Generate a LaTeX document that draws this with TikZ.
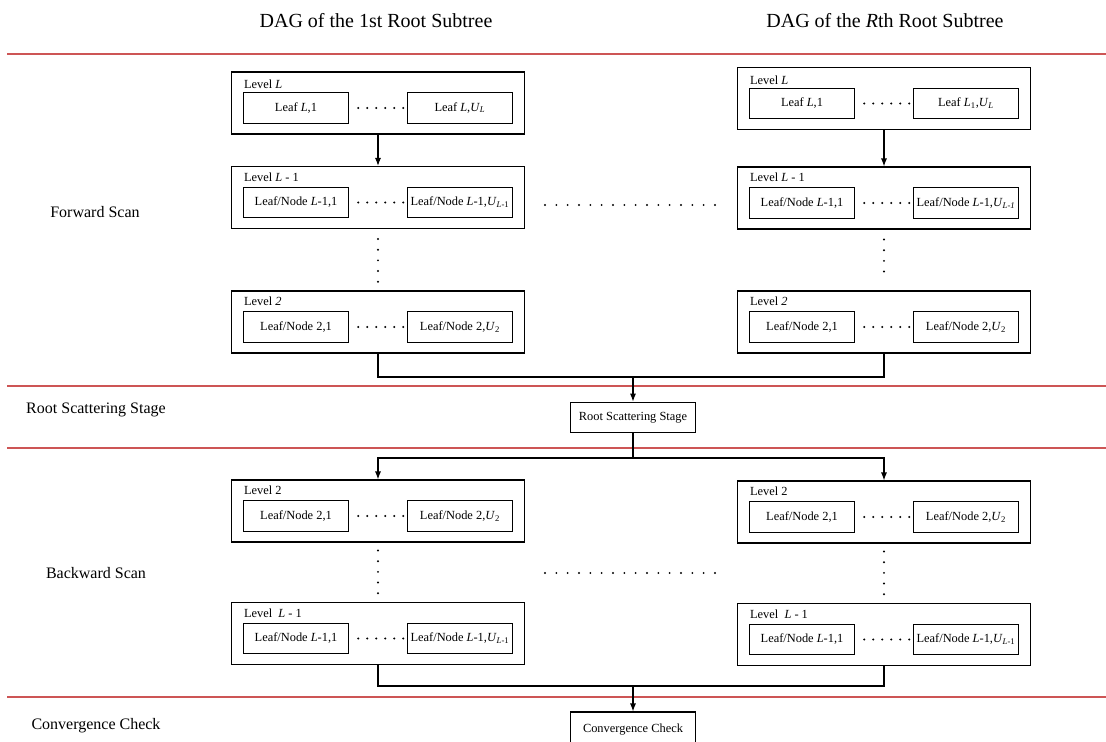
\documentclass[tikz,border=0pt]{standalone}
\usepackage{fontspec}
\setmainfont{Liberation Serif}
\usepackage{xcolor}
\usepackage{tikz}
\usetikzlibrary{arrows.meta, positioning, calc}
\definecolor{lineaetapa}{RGB}{205,85,85}

\begin{document}
\begin{tikzpicture}[
  x=0.75pt, y=-0.75pt,
  nivel/.style={draw, minimum width=220pt, minimum height=46.5pt, inner sep=0pt, line width=0.8pt},
  hoja/.style={draw, minimum width=79pt, minimum height=23pt, inner sep=1pt,
               font=\fontsize{9.3}{10}\selectfont, line width=0.8pt},
  etiqueta/.style={anchor=west, inner sep=0pt, font=\fontsize{9.3}{10}\selectfont},
  etapa/.style={draw, minimum width=94pt, minimum height=23pt, inner sep=1pt,
                font=\fontsize{9.3}{10}\selectfont, line width=0.8pt},
  fase/.style={font=\fontsize{12}{14}\selectfont},
  titulo/.style={font=\fontsize{15}{18}\selectfont},
  flecha/.style={-{Latex[length=6pt, width=4.5pt]}, line width=0.8pt},
  linea/.style={line width=0.8pt},
  separador/.style={draw=lineaetapa, line width=0.8pt},
  puntos/.style={line width=1.6pt, line cap=round, dash pattern=on 0pt off #1},
  puntos/.default=6.75pt
]
\useasboundingbox (0,0) rectangle (1106,742);

% titles and stages
\node[titulo] (t1) at (376,21) {DAG of the 1st Root Subtree};
\node[titulo] (t2) at (885,21) {DAG of the \textit{R}th Root Subtree};
\node[fase] (fwd) at (95,212) {Forward Scan};
\node[fase] (rss) at (96,410) {Root Scattering Stage};
\node[fase] (bwd) at (96,573) {Backward Scan};
\node[fase] (cvg) at (96,726) {Convergence Check};

\draw[separador] (7,54) -- (1106,54);
\draw[separador] (7,386) -- (1106,386);
\draw[separador] (7,448) -- (1106,448);
\draw[separador] (7,697) -- (1106,697);

% forward scan
\node[nivel] (fLa) at (378,103) {};
\node[etiqueta] at ([shift={(13,13)}]fLa.north west) {Level \textit{L}};
\node[hoja, anchor=west] (fLa1) at ([shift={(12,5)}]fLa.west) {Leaf \textit{L},1};
\node[hoja, anchor=east] (fLa2) at ([shift={(-12,5)}]fLa.east) {Leaf \textit{L},\textit{U}\textsubscript{\textit{L}}};
\draw[puntos] ($(fLa1.east)+(9,0)$) -- ($(fLa2.west)+(-2.5,0)$);

\node[nivel] (fLb) at (884,98.5) {};
\node[etiqueta] at ([shift={(13,13)}]fLb.north west) {Level \textit{L}};
\node[hoja, anchor=west] (fLb1) at ([shift={(12,5)}]fLb.west) {Leaf \textit{L},1};
\node[hoja, anchor=east] (fLb2) at ([shift={(-12,5)}]fLb.east) {Leaf \textit{L}\textsubscript{1},\textit{U}\textsubscript{\textit{L}}};
\draw[puntos] ($(fLb1.east)+(9,0)$) -- ($(fLb2.west)+(-2.5,0)$);

\node[nivel] (fMa) at (378,197.5) {};
\node[etiqueta] at ([shift={(13,11)}]fMa.north west) {Level \textit{L} - 1};
\node[hoja, anchor=west] (fMa1) at ([shift={(12,5)}]fMa.west) {Leaf/Node \textit{L}-1,1};
\node[hoja, anchor=east] (fMa2) at ([shift={(-12,5)}]fMa.east) {Leaf/Node \textit{L}-1,\textit{U}\textsubscript{\textit{L}-1}};
\draw[puntos] ($(fMa1.east)+(9,0)$) -- ($(fMa2.west)+(-2.5,0)$);

\node[nivel] (fMb) at (884,198) {};
\node[etiqueta] at ([shift={(13,11)}]fMb.north west) {Level \textit{L} - 1};
\node[hoja, anchor=west] (fMb1) at ([shift={(12,5)}]fMb.west) {Leaf/Node \textit{L}-1,1};
\node[hoja, anchor=east] (fMb2) at ([shift={(-12,5)}]fMb.east) {Leaf/Node \textit{L}-1,\textit{U}\textsubscript{\textit{L-1}}};
\draw[puntos] ($(fMb1.east)+(9,0)$) -- ($(fMb2.west)+(-2.5,0)$);

\node[nivel] (f2a) at (378,322) {};
\node[etiqueta] at ([shift={(13,11)}]f2a.north west) {Level \textit{2}};
\node[hoja, anchor=west] (f2a1) at ([shift={(12,5)}]f2a.west) {Leaf/Node 2,1};
\node[hoja, anchor=east] (f2a2) at ([shift={(-12,5)}]f2a.east) {Leaf/Node 2,\textit{U}\textsubscript{2}};
\draw[puntos] ($(f2a1.east)+(9,0)$) -- ($(f2a2.west)+(-2.5,0)$);

\node[nivel] (f2b) at (884,322) {};
\node[etiqueta] at ([shift={(13,11)}]f2b.north west) {Level \textit{2}};
\node[hoja, anchor=west] (f2b1) at ([shift={(12,5)}]f2b.west) {Leaf/Node 2,1};
\node[hoja, anchor=east] (f2b2) at ([shift={(-12,5)}]f2b.east) {Leaf/Node 2,\textit{U}\textsubscript{2}};
\draw[puntos] ($(f2b1.east)+(9,0)$) -- ($(f2b2.west)+(-2.5,0)$);

\draw[flecha] (fLa) -- (fMa);
\draw[flecha] (fLb) -- (fMb);
\draw[puntos=8pt] ($(fMa.south)+(0,10)$) -- ($(f2a.north)+(0,-8.5)$);
\draw[puntos=8pt] ($(fMb.south)+(0,10)$) -- ($(f2b.north)+(0,-8.5)$);
\draw[puntos=8.5pt] (545,205) -- (716,205);

% root scattering
\node[etapa] (raiz) at (633,417.5) {Root Scattering Stage};
\coordinate (unionF) at (633,377);
\draw[linea] (f2a.south) |- (unionF) -| (f2b.south);
\draw[flecha] (unionF) -- (raiz);

% backward scan
\node[nivel] (b2a) at (378,511) {};
\node[etiqueta] at ([shift={(13,11)}]b2a.north west) {Level 2};
\node[hoja, anchor=west] (b2a1) at ([shift={(12,5)}]b2a.west) {Leaf/Node 2,1};
\node[hoja, anchor=east] (b2a2) at ([shift={(-12,5)}]b2a.east) {Leaf/Node 2,\textit{U}\textsubscript{2}};
\draw[puntos] ($(b2a1.east)+(9,0)$) -- ($(b2a2.west)+(-2.5,0)$);

\node[nivel] (b2b) at (884,512) {};
\node[etiqueta] at ([shift={(13,11)}]b2b.north west) {Level 2};
\node[hoja, anchor=west] (b2b1) at ([shift={(12,5)}]b2b.west) {Leaf/Node 2,1};
\node[hoja, anchor=east] (b2b2) at ([shift={(-12,5)}]b2b.east) {Leaf/Node 2,\textit{U}\textsubscript{2}};
\draw[puntos] ($(b2b1.east)+(9,0)$) -- ($(b2b2.west)+(-2.5,0)$);

\node[nivel] (bMa) at (378,633.5) {};
\node[etiqueta] at ([shift={(13,11)}]bMa.north west) {Level\ \ \textit{L} - 1};
\node[hoja, anchor=west] (bMa1) at ([shift={(12,5)}]bMa.west) {Leaf/Node \textit{L}-1,1};
\node[hoja, anchor=east] (bMa2) at ([shift={(-12,5)}]bMa.east) {Leaf/Node \textit{L}-1,\textit{U}\textsubscript{\textit{L}-1}};
\draw[puntos] ($(bMa1.east)+(9,0)$) -- ($(bMa2.west)+(-2.5,0)$);

\node[nivel] (bMb) at (884,634.5) {};
\node[etiqueta] at ([shift={(13,11)}]bMb.north west) {Level\ \ \textit{L} - 1};
\node[hoja, anchor=west] (bMb1) at ([shift={(12,5)}]bMb.west) {Leaf/Node \textit{L}-1,1};
\node[hoja, anchor=east] (bMb2) at ([shift={(-12,5)}]bMb.east) {Leaf/Node \textit{L}-1,\textit{U}\textsubscript{\textit{L}-1}};
\draw[puntos] ($(bMb1.east)+(9,0)$) -- ($(bMb2.west)+(-2.5,0)$);

\coordinate (unionB) at (633,458);
\draw[linea] (raiz) -- (unionB);
\draw[flecha] (unionB) -| (b2a.north);
\draw[flecha] (unionB) -| (b2b.north);
\draw[puntos=8pt] ($(b2a.south)+(0,8)$) -- ($(bMa.north)+(0,-8.5)$);
\draw[puntos=8pt] ($(b2b.south)+(0,8)$) -- ($(bMb.north)+(0,-8.5)$);
\draw[puntos=8.5pt] (545,573) -- (716,573);

% convergence
\node[etapa, minimum height=27pt] (conv) at (633,730) {Convergence Check};
\coordinate (unionC) at (633,686);
\draw[linea] (bMa.south) |- (unionC) -| (bMb.south);
\draw[flecha] (unionC) -- (conv);
\end{tikzpicture}
\end{document}
